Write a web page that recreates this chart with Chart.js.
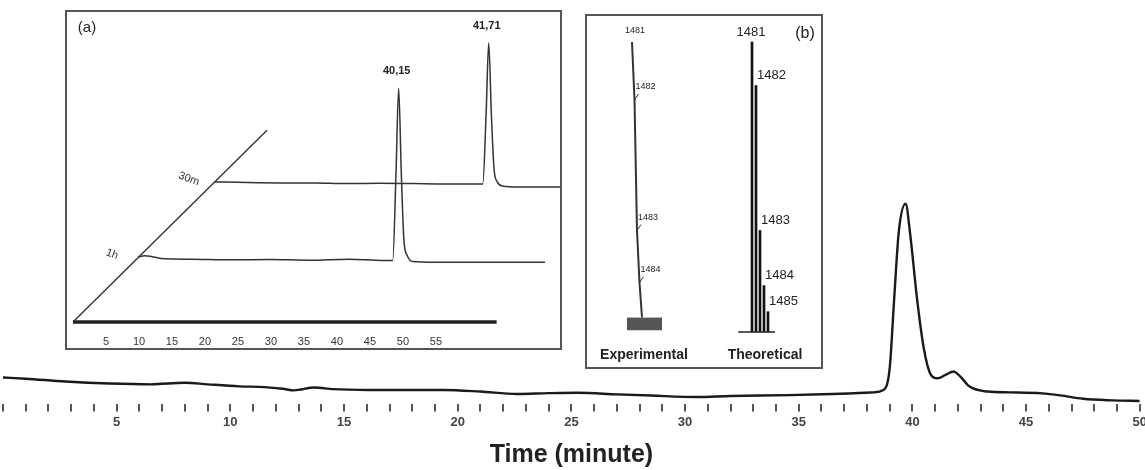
<!DOCTYPE html>
<html lang="en">
<head>
<meta charset="UTF-8">
<title>Chromatogram</title>
<script src="https://cdn.jsdelivr.net/npm/chart.js"></script>
<style>
  body { margin: 0; background: #fff; }
  #wrap { position: relative; width: 1145px; height: 470px; overflow: hidden; }
  #mainBox { position: absolute; left: 0; top: 0; width: 1150px; height: 470px; }
  .inset { position: absolute; background: #fff; border: 2px solid #555; box-sizing: border-box; }
  #boxA { left: 65px; top: 10px; width: 497px; height: 340px; }
  #boxB { left: 585px; top: 14px; width: 238px; height: 355px; }
</style>
</head>
<body>
<div id="wrap">
  <div id="mainBox"><canvas id="mainChart"></canvas></div>
  <div class="inset" id="boxA"><canvas id="chartA"></canvas></div>
  <div class="inset" id="boxB"><canvas id="chartB"></canvas></div>
</div>
<script>
// ---- main chromatogram ----
const timeMin = [0, 1, 2.75, 4.7, 6.5, 8, 9, 10.4, 11.5, 12.3, 12.8, 13.7, 14.5, 16.1, 17.5, 19.4, 21, 22.6, 24, 25.3,
  27, 28.5, 30.5, 32, 34.6, 36.5, 38.3, 38.7, 39.0, 39.2, 39.4, 39.7, 39.9, 40.2, 40.5, 40.8, 41.1, 41.5, 41.8, 42.1,
  42.5, 43.3, 44.3, 45.7, 46.5, 47.5, 48.8, 50];
const signal = [6.7, 6.4, 5.7, 5.2, 5.0, 5.4, 5.0, 4.5, 4.3, 3.9, 3.5, 4.2, 3.8, 3.6, 3.6, 3.6, 3.2, 2.6, 2.8, 2.9,
  2.5, 2.2, 1.85, 2.1, 2.3, 2.6, 3.0, 3.5, 9, 26.5, 43, 50, 42.5, 26.5, 14, 7.5, 6.5, 7.5, 8.2, 7.0,
  4.5, 3.2, 3.0, 2.75, 2.25, 1.4, 1.0, 0.85];

// ---- inset (a): stacked chromatograms ----
const aTicks = [5, 10, 15, 20, 25, 30, 35, 40, 45, 50, 55];
const trace1hT = [0, 1, 2, 4, 8, 14, 20, 26, 32, 36, 38.6, 39.1, 39.5, 39.9, 40.3, 40.8, 41.6, 45, 50, 55, 61.7];
const trace1hV = [0, 0.4, 0.2, -0.5, -0.6, -0.8, -0.7, -0.9, -0.6, -0.9, -1.0, 25, 50.3, 25, 5, 0.5, -1.3, -1.5, -1.5, -1.5, -1.5];
const trace30mT = [0, 5, 10, 15, 20, 25, 30, 35, 40.6, 41.1, 41.5, 41.9, 42.3, 42.8, 43.6, 46, 50, 52.6];
const trace30mV = [0, -0.2, -0.3, -0.3, -0.5, -0.4, -0.5, -0.6, -0.6, 20, 41.4, 20, 4, 0, -1.2, -1.5, -1.5, -1.5];
const traceNames = ['1h', '30m'];
const peakLabels = ['40,15', '41,71'];

// ---- inset (b): isotope pattern ----
const massLabels = ['1481', '1482', '1483', '1484', '1485'];
const theoMz = [1481, 1482, 1483, 1484, 1485];
const theoInt = [100, 85, 35, 16, 7];
const expMz = [1481, 1482, 1483, 1484, 1485];
const expInt = [100, 80, 35, 17, 5];
const expNoiseMz = [1479, 1493];
const expNoiseInt = [4.8, 4.8];

const FONT = '"Liberation Sans", Arial, sans-serif';
Chart.defaults.font.family = FONT;

// main chart
new Chart(document.getElementById('mainChart'), {
  type: 'line',
  data: {
    datasets: [{
      data: timeMin.map((t, i) => ({ x: t, y: signal[i] })),
      borderColor: '#1a1a1a',
      borderWidth: 2.4,
      pointRadius: 0,
      cubicInterpolationMode: 'monotone'
    }]
  },
  options: {
    animation: false,
    responsive: true,
    maintainAspectRatio: false,
    layout: { padding: { left: 3, right: 0, top: 3, bottom: 0 } },
    plugins: { legend: { display: false }, tooltip: { enabled: false } },
    scales: {
      x: {
        type: 'linear', min: 0, max: 50,
        border: { display: false },
        grid: { drawOnChartArea: false, drawTicks: true, tickLength: 7, color: '#555', lineWidth: 2 },
        ticks: {
          stepSize: 1, autoSkip: false, maxRotation: 0, padding: 3,
          color: '#444', font: { size: 13, weight: 'bold' },
          callback: v => (v % 5 === 0 && v !== 0) ? String(v) : ''
        },
        title: {
          display: true, text: 'Time (minute)', color: '#222',
          font: { size: 25, weight: 'bold' }, padding: { top: 7, bottom: 0 }
        }
      },
      y: { display: false, min: 0, max: 100 }
    }
  }
});

// inset (a)
const offset1h = [9.85, 19.3];
const offset30m = [21.5, 41.7];
const depthAxisEnd = [29.4, 57.1];
const timeAxisEnd = 64.2;

function shift(ts, vs, off) {
  return ts.map((t, i) => ({ x: t + off[0], y: vs[i] + off[1] }));
}

const labelsA = {
  id: 'labelsA',
  afterDatasetsDraw(chart) {
    const { ctx, scales: { x, y } } = chart;
    ctx.save();
    ctx.fillStyle = '#333';
    ctx.textAlign = 'center';
    ctx.textBaseline = 'middle';
    ctx.font = '11px ' + FONT;
    const y0 = y.getPixelForValue(0);
    aTicks.forEach(t => ctx.fillText(String(t), x.getPixelForValue(t), y0 + 20));

    ctx.font = '15px ' + FONT;
    ctx.fillStyle = '#222';
    ctx.fillText('(a)', 20, 16);

    const traces = [[trace1hT, trace1hV, offset1h], [trace30mT, trace30mV, offset30m]];
    traces.forEach(([ts, vs, off], k) => {
      const i = vs.indexOf(Math.max(...vs));
      const px = x.getPixelForValue(ts[i] + off[0]);
      const py = y.getPixelForValue(vs[i] + off[1]);
      ctx.font = 'bold 11px ' + FONT;
      ctx.fillStyle = '#222';
      ctx.fillText(peakLabels[k], px - 2, py - 17);
      const ox = x.getPixelForValue(off[0]);
      const oy = y.getPixelForValue(off[1]);
      ctx.save();
      ctx.translate(ox - 26, oy - 3);
      ctx.rotate(0.35);
      ctx.font = '11px ' + FONT;
      ctx.fillStyle = '#333';
      ctx.fillText(traceNames[k], 0, 0);
      ctx.restore();
    });
    ctx.restore();
  }
};

new Chart(document.getElementById('chartA'), {
  type: 'line',
  data: {
    datasets: [
      { data: [{ x: 0, y: 0 }, { x: timeAxisEnd, y: 0 }], borderColor: '#222', borderWidth: 3.5 },
      { data: [{ x: 0, y: 0 }, { x: depthAxisEnd[0], y: depthAxisEnd[1] }], borderColor: '#333', borderWidth: 1.4 },
      { data: shift(trace1hT, trace1hV, offset1h), borderColor: '#333', borderWidth: 1.5, cubicInterpolationMode: 'monotone' },
      { data: shift(trace30mT, trace30mV, offset30m), borderColor: '#333', borderWidth: 1.5, cubicInterpolationMode: 'monotone' }
    ]
  },
  options: {
    animation: false,
    responsive: true,
    maintainAspectRatio: false,
    layout: { padding: 0 },
    elements: { point: { radius: 0 } },
    plugins: { legend: { display: false }, tooltip: { enabled: false } },
    scales: {
      x: { type: 'linear', display: false, min: -0.91, max: 73.8 },
      y: { type: 'linear', display: false, min: -7.74, max: 92.26 }
    }
  },
  plugins: [labelsA]
});

// inset (b)
const labelsB = {
  id: 'labelsB',
  afterDatasetsDraw(chart) {
    const { ctx, scales: { xe, xt, y } } = chart;
    ctx.save();
    ctx.fillStyle = '#222';
    ctx.strokeStyle = '#333';
    ctx.lineWidth = 1;
    ctx.textBaseline = 'middle';

    // experimental labels (1481-1484)
    ctx.font = '9px ' + FONT;
    for (let i = 0; i < 4; i++) {
      const px = xe.getPixelForValue(expMz[i]);
      const py = y.getPixelForValue(expInt[i]);
      if (i === 0) {
        ctx.textAlign = 'center';
        ctx.fillText(massLabels[i], px + 3, py - 11);
      } else {
        ctx.beginPath();
        ctx.moveTo(px, py);
        ctx.lineTo(px + 4, py - 6);
        ctx.stroke();
        ctx.textAlign = 'left';
        ctx.fillText(massLabels[i], px + 1, py - 13);
      }
    }

    // theoretical labels
    ctx.font = '13px ' + FONT;
    theoMz.forEach((m, i) => {
      const px = xt.getPixelForValue(m);
      const py = y.getPixelForValue(theoInt[i]);
      if (i === 0) {
        ctx.textAlign = 'center';
        ctx.fillText(massLabels[i], px, py - 10);
      } else {
        ctx.textAlign = 'left';
        ctx.fillText(massLabels[i], px + 2, py - 10);
      }
    });

    ctx.textAlign = 'center';
    ctx.font = '16px ' + FONT;
    ctx.fillText('(b)', 218, 18);
    ctx.font = 'bold 14px ' + FONT;
    ctx.fillText('Experimental', 57, 339);
    ctx.fillText('Theoretical', 178, 339);
    ctx.restore();
  }
};

new Chart(document.getElementById('chartB'), {
  type: 'bar',
  data: {
    datasets: [
      {
        type: 'line', xAxisID: 'xe', yAxisID: 'y',
        data: expNoiseMz.map((m, i) => ({ x: m, y: expNoiseInt[i] })),
        borderColor: '#555', borderWidth: 1, backgroundColor: '#555',
        fill: { value: 0.6 }, pointRadius: 0
      },
      {
        type: 'line', xAxisID: 'xe', yAxisID: 'y',
        data: expMz.map((m, i) => ({ x: m, y: expInt[i] })),
        borderColor: '#333', borderWidth: 2, pointRadius: 0
      },
      {
        type: 'line', xAxisID: 'xt', yAxisID: 'y',
        data: [{ x: theoMz[0] - 3.2, y: 0 }, { x: theoMz[theoMz.length - 1] + 2, y: 0 }],
        borderColor: '#222', borderWidth: 1.5, pointRadius: 0
      },
      {
        type: 'bar', xAxisID: 'xt', yAxisID: 'y',
        data: theoMz.map((m, i) => ({ x: m, y: theoInt[i] })),
        backgroundColor: '#111', barThickness: 2
      }
    ]
  },
  options: {
    animation: false,
    responsive: true,
    maintainAspectRatio: false,
    layout: { padding: 0 },
    plugins: { legend: { display: false }, tooltip: { enabled: false } },
    scales: {
      xe: { type: 'linear', display: false, offset: false, min: 1463, max: 1556.6 },
      xt: { type: 'linear', display: false, offset: false, min: 1440, max: 1498.5 },
      y: { type: 'linear', display: false, min: -12.07, max: 108.97 }
    }
  },
  plugins: [labelsB]
});
</script>
</body>
</html>
